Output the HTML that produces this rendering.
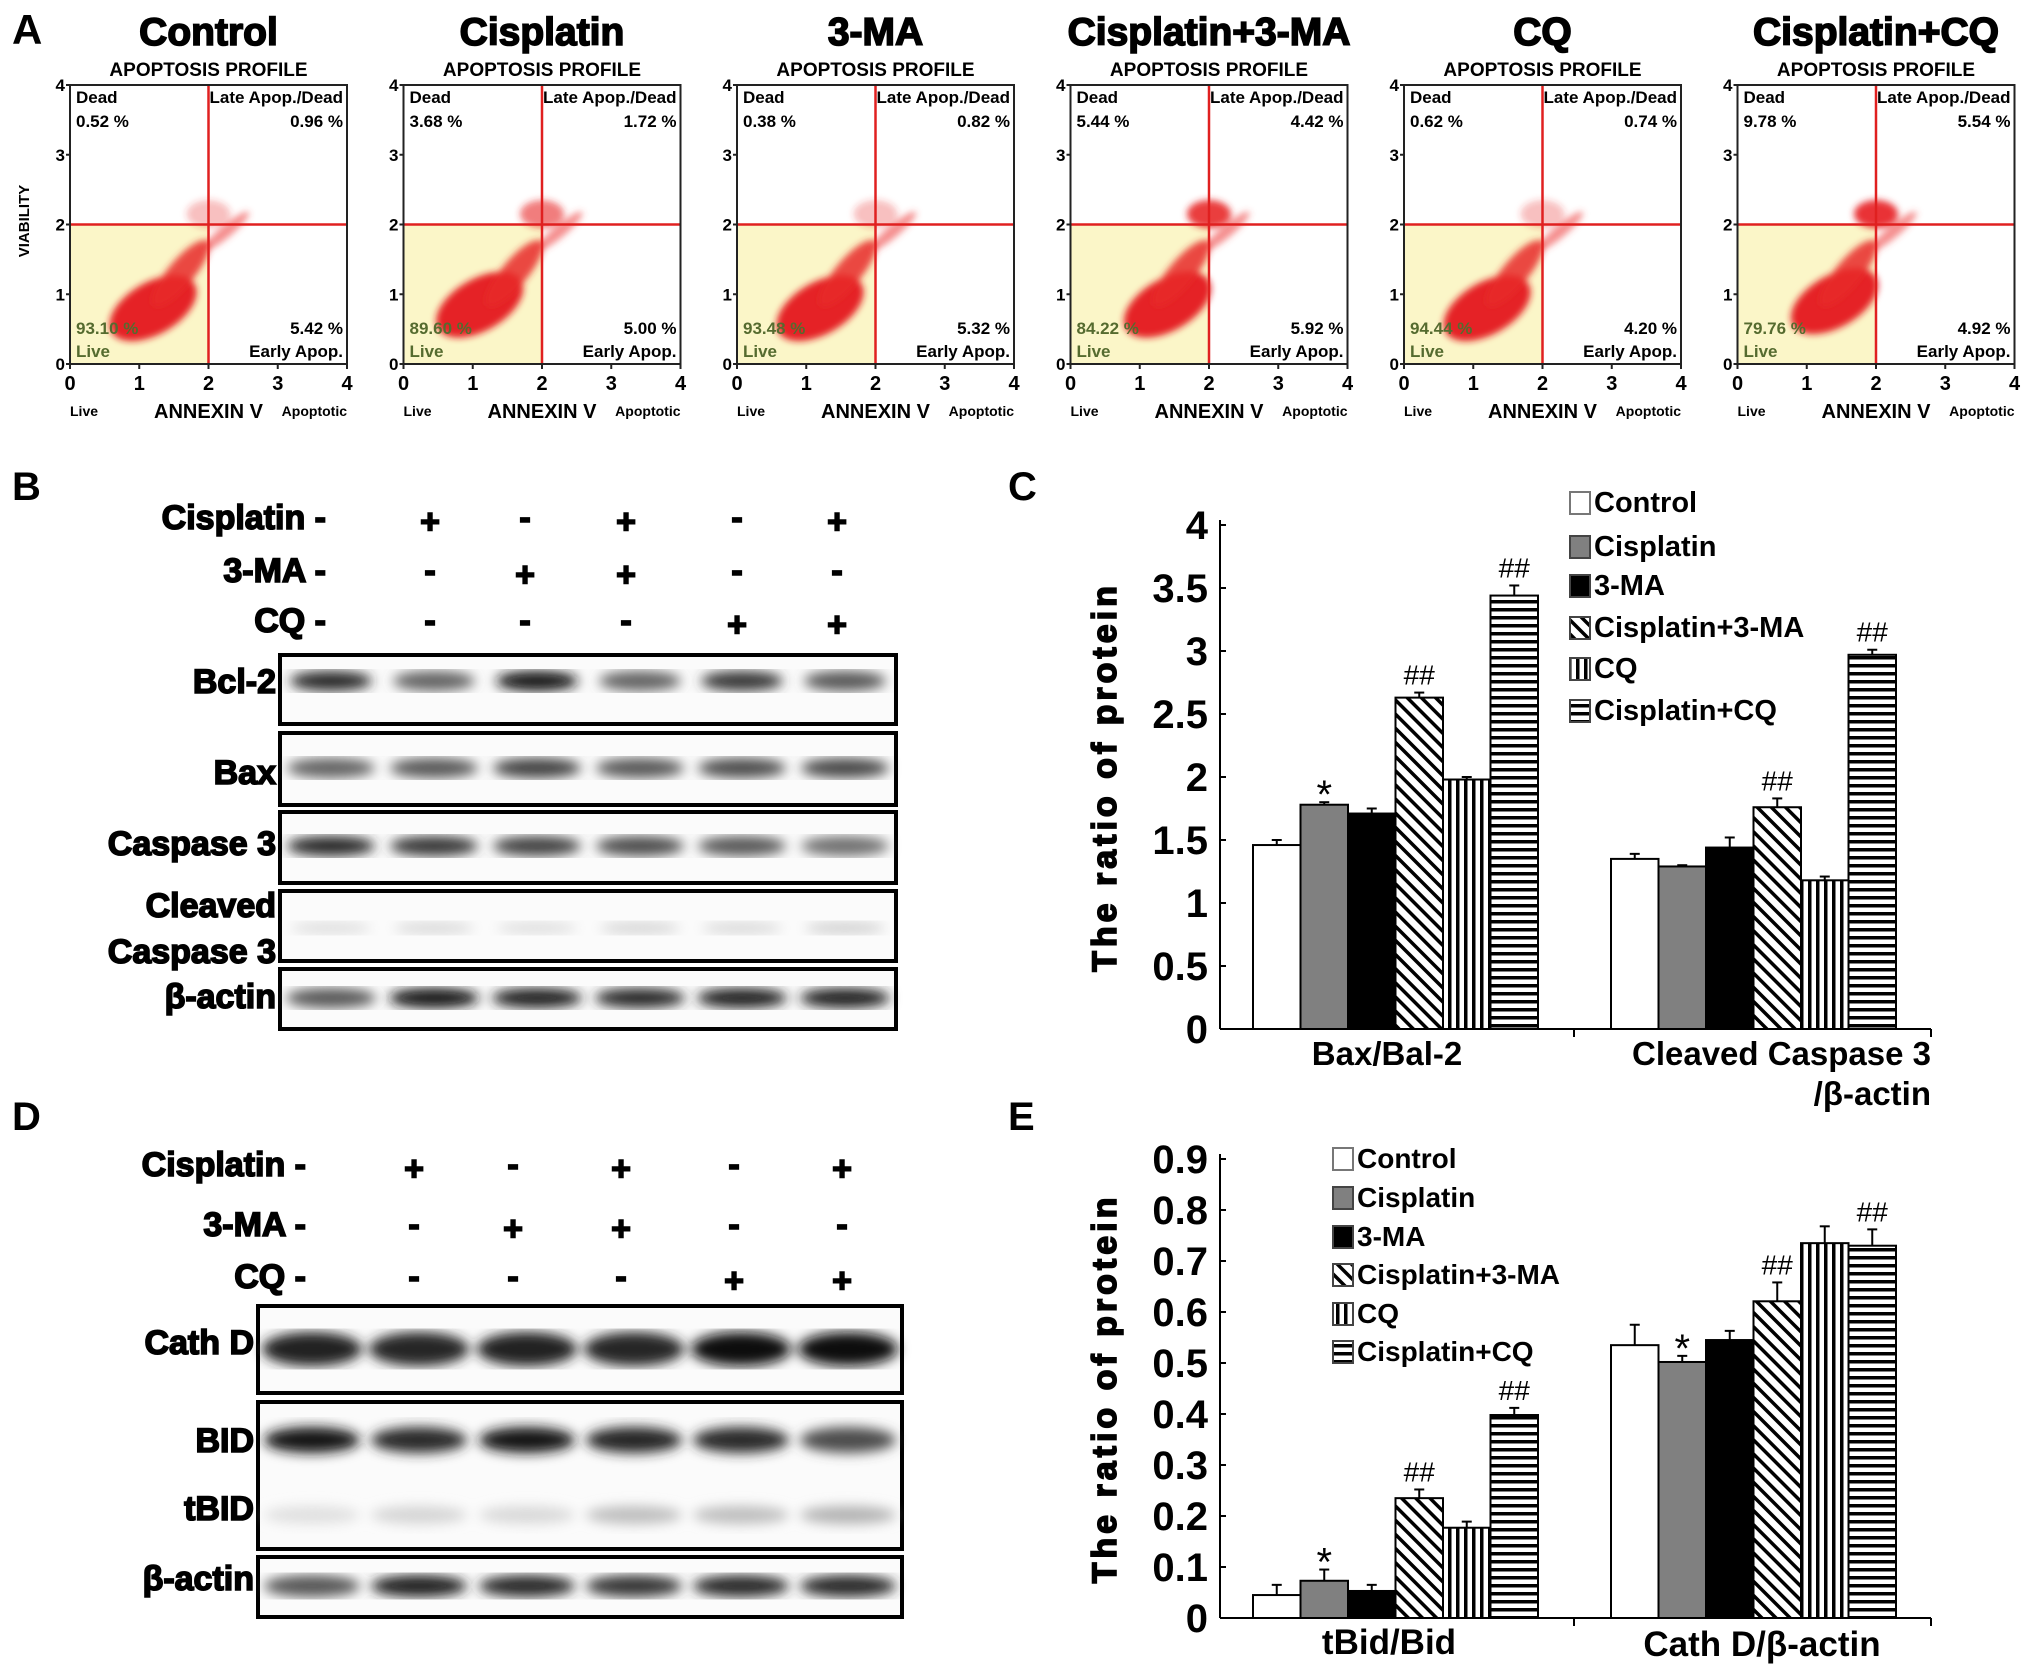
<!DOCTYPE html>
<html><head><meta charset="utf-8"><style>
html,body{margin:0;padding:0;background:#fff}
svg{display:block}
text{font-family:"Liberation Sans",Arial,sans-serif}
.n{font-family:"Liberation Sans Narrow","Liberation Sans",sans-serif;font-weight:bold}
.b{font-weight:bold}
.h{font-weight:bold;stroke:#000;stroke-width:1.6px}
</style></head><body>
<svg id="fig" xmlns="http://www.w3.org/2000/svg" width="2031" height="1670" viewBox="0 0 2031 1670">
<defs>
<pattern id="pDiag" patternUnits="userSpaceOnUse" width="10" height="10" patternTransform="rotate(-45)"><rect width="10" height="10" fill="#fff"/><rect width="3.5" height="10" fill="#000"/></pattern>
<pattern id="pVert" patternUnits="userSpaceOnUse" width="8" height="8"><rect width="8" height="8" fill="#fff"/><rect width="3.5" height="8" fill="#000"/></pattern>
<pattern id="pHorz" patternUnits="userSpaceOnUse" width="8" height="8"><rect width="8" height="8" fill="#fff"/><rect width="8" height="3.5" fill="#000"/></pattern>
<filter id="blur4"><feGaussianBlur stdDeviation="3.5"/></filter>
<filter id="blur8"><feGaussianBlur stdDeviation="6"/></filter>
</defs>
<g id="panelA"></g>
<g id="panelB"></g>
<g id="panelC"></g>
<g id="panelD"></g>
<g id="panelE"></g>
</svg>
<script>
// ---------- Panel A data ----------
const flowTitles = ["Control","Cisplatin","3-MA","Cisplatin+3-MA","CQ","Cisplatin+CQ"];
const deadPct = ["0.52","3.68","0.38","5.44","0.62","9.78"];
const latePct = ["0.96","1.72","0.82","4.42","0.74","5.54"];
const livePct = ["93.10","89.60","93.48","84.22","94.44","79.76"];
const earlyPct = ["5.42","5.00","5.32","5.92","4.20","4.92"];
const mainBlobX = [1.2,1.1,1.2,1.4,1.2,1.4];
const mainBlobY = [0.8,0.85,0.8,0.85,0.8,0.9];
const upperBlob = [0.3,0.6,0.3,0.9,0.3,0.95];
const flowTicks = ["0","1","2","3","4"];

// ---------- Panel C data ----------
const groupNames = ["Control","Cisplatin","3-MA","Cisplatin+3-MA","CQ","Cisplatin+CQ"];
const cCats = ["Bax/Bal-2","Cleaved Caspase 3"];
const cVals1 = [1.46,1.78,1.71,2.63,1.98,3.44];
const cErr1 = [0.04,0.02,0.04,0.04,0.02,0.08];
const cVals2 = [1.35,1.29,1.44,1.76,1.18,2.97];
const cErr2 = [0.04,0.01,0.08,0.07,0.03,0.04];
const cTicks = ["0","0.5","1","1.5","2","2.5","3","3.5","4"];
const cMarks1 = ["","*","","##","","##"];
const cMarks2 = ["","","","##","","##"];

// ---------- Panel E data ----------
const eCats = ["tBid/Bid","Cath D/β-actin"];
const eVals1 = [0.045,0.073,0.053,0.235,0.177,0.398];
const eErr1 = [0.02,0.022,0.012,0.017,0.012,0.014];
const eVals2 = [0.535,0.502,0.545,0.621,0.735,0.73];
const eErr2 = [0.04,0.012,0.018,0.037,0.033,0.032];
const eTicks = ["0","0.1","0.2","0.3","0.4","0.5","0.6","0.7","0.8","0.9"];
const eMarks1 = ["","*","","##","","##"];
const eMarks2 = ["","*","","##","","##"];

// ---------- Blot data ----------
const bcl2 = [0.85,0.6,0.95,0.6,0.8,0.65];
const bax = [0.6,0.65,0.75,0.65,0.7,0.72];
const casp3 = [0.85,0.8,0.75,0.7,0.65,0.55];
const cleaved = [0.06,0.08,0.06,0.1,0.08,0.12];
const actinB = [0.65,0.95,0.9,0.85,0.9,0.9];
const cathD = [0.9,0.88,0.9,0.88,1,1];
const bid = [0.95,0.85,0.95,0.88,0.85,0.7];
const tbid = [0.05,0.1,0.08,0.2,0.2,0.25];
const actinD = [0.65,0.9,0.85,0.8,0.85,0.85];
const signCis = ["-","+","-","+","-","+"];
const sign3ma = ["-","-","+","+","-","-"];
const signCQ = ["-","-","-","-","+","+"];

const NS="http://www.w3.org/2000/svg";
function mk(tag,attrs,parent,txt){const e=document.createElementNS(NS,tag);for(const k in attrs)e.setAttribute(k,attrs[k]);if(txt!==undefined)e.textContent=txt;parent.appendChild(e);return e;}

// ---------- Panel A ----------
const A=document.getElementById('panelA');
const lblA=mk('text',{x:12,y:44,'font-size':42,class:'b'},A,'A');


const vt=mk('text',{x:0,y:0,'font-size':15,transform:'translate(29,221) rotate(-90)','text-anchor':'middle',class:'n'},A,'VIABILITY');


flowTitles.forEach((t,i)=>{
  const g=mk('g',{},A);
  
  
  const x0=70+333.5*i, y0=85, w=277, h=279;
  const sx=v=>x0+v/4*w, sy=v=>y0+h-v/4*h;
  const tt=mk('text',{x:x0+w/2,y:45,'font-size':39,'text-anchor':'middle',class:'h'},g,t);
  
  
  mk('text',{x:x0+w/2,y:76,'font-size':19,'text-anchor':'middle',class:'n'},g,'APOPTOSIS PROFILE');
  mk('rect',{x:x0,y:sy(2),width:w/2,height:h/2,fill:'#fbf6c8'},g);
  const cl=mk('g',{filter:'url(#blur4)'},g);
  mk('ellipse',{cx:sx(mainBlobX[i]),cy:sy(mainBlobY[i]),rx:48,ry:26,fill:'#e4181a',opacity:0.95,transform:`rotate(-30 ${sx(mainBlobX[i])} ${sy(mainBlobY[i])})`},cl);
  mk('ellipse',{cx:sx(1.6),cy:sy(1.3),rx:42,ry:13,fill:'#e8282a',opacity:0.85,transform:`rotate(-50 ${sx(1.6)} ${sy(1.3)})`},cl);
  mk('ellipse',{cx:sx(2.0),cy:sy(2.15),rx:22,ry:14,fill:'#e8282a',opacity:upperBlob[i]},cl);
  mk('ellipse',{cx:sx(2.25),cy:sy(1.9),rx:30,ry:6,fill:'#ee4444',opacity:0.6,transform:`rotate(-40 ${sx(2.25)} ${sy(1.9)})`},cl);
  mk('line',{x1:sx(2),y1:y0,x2:sx(2),y2:y0+h,stroke:'#e02020','stroke-width':2.5},g);
  mk('line',{x1:x0,y1:sy(2),x2:x0+w,y2:sy(2),stroke:'#e02020','stroke-width':2.5},g);
  mk('rect',{x:x0,y:y0,width:w,height:h,fill:'none',stroke:'#222','stroke-width':2},g);
  flowTicks.forEach((tk,k)=>{
    mk('text',{x:sx(k),y:y0+h+26,'font-size':20,'text-anchor':'middle',class:'b'},g,tk);
    mk('text',{x:x0-5,y:sy(k)+6,'font-size':17,'text-anchor':'end',class:'b'},g,tk);
    mk('line',{x1:x0-4,y1:sy(k),x2:x0,y2:sy(k),stroke:'#222','stroke-width':2},g);
    mk('line',{x1:sx(k),y1:y0+h,x2:sx(k),y2:y0+h+5,stroke:'#222','stroke-width':2},g);
  });
  const fs=17;
  mk('text',{x:x0+6,y:y0+18,'font-size':fs,class:'n'},g,'Dead');
  mk('text',{x:x0+6,y:y0+42,'font-size':fs,class:'n'},g,deadPct[i]+' %');
  mk('text',{x:x0+w-4,y:y0+18,'font-size':fs,'text-anchor':'end',class:'n'},g,'Late Apop./Dead');
  mk('text',{x:x0+w-4,y:y0+42,'font-size':fs,'text-anchor':'end',class:'n'},g,latePct[i]+' %');
  mk('text',{x:x0+6,y:y0+h-30,'font-size':fs,fill:'#556b2f',class:'n'},g,livePct[i]+' %');
  mk('text',{x:x0+6,y:y0+h-7,'font-size':fs,fill:'#556b2f',class:'n'},g,'Live');
  mk('text',{x:x0+w-4,y:y0+h-30,'font-size':fs,'text-anchor':'end',class:'n'},g,earlyPct[i]+' %');
  mk('text',{x:x0+w-4,y:y0+h-7,'font-size':fs,'text-anchor':'end',class:'n'},g,'Early Apop.');
  mk('text',{x:x0,y:416,'font-size':14,class:'n'},g,'Live');
  const ax=mk('text',{x:x0+w/2,y:418,'font-size':20,'text-anchor':'middle',class:'n'},g,'ANNEXIN V');
  
  
  mk('text',{x:x0+w,y:416,'font-size':14,'text-anchor':'end',class:'n'},g,'Apoptotic');
});

// ---------- Blots ----------
function signRows(P,lanes,labelX,ys,fs){
  const rows=[["Cisplatin",signCis],["3-MA",sign3ma],["CQ",signCQ]];
  rows.forEach((r,k)=>{
    const t=mk('text',{x:labelX,y:ys[k],'font-size':fs,'text-anchor':'end',class:'h'},P,r[0]+' -');
    
    
    r[1].forEach((s,j)=>{ if(j>0) mk('text',{x:lanes[j],y:ys[k]+(s==='+'?4:0),'font-size':fs,'text-anchor':'middle',class:'h'},P,s); });
  });
}
function blot(P,name,x0,x1,yt,yb,lanes,bands,bandY,bw,bh,labels){
  const g=mk('g',{},P);
  
  
  mk('rect',{x:x0,y:yt,width:x1-x0,height:yb-yt,fill:'#fbfbfb',stroke:'#000','stroke-width':4},g);
  const bg=mk('g',{filter:'url(#blur8)'},g);
  bands.forEach((arr,bi)=>{
    arr.forEach((v,j)=>{
      const gray=Math.round(235-225*v);
      mk('ellipse',{cx:lanes[j],cy:bandY[bi],rx:bw/2,ry:bh[bi]/2,fill:`rgb(${gray},${gray},${gray})`},bg);
    });
  });
  labels.forEach(l=>mk('text',{x:l[1],y:l[2],'font-size':34,'text-anchor':'end',class:'h'},g,l[0]));
}
const B=document.getElementById('panelB');
mk('text',{x:12,y:500,'font-size':40,class:'b'},B,'B');
const lanesB=[331,434,537,640,742,845];
signRows(B,[322,430,525,626,737,837],326,[529,582,632],34);
blot(B,'bcl-2',280,896,655,724,lanesB,[bcl2],[681],82,[20],[["Bcl-2",276,693]]);
blot(B,'bax',280,896,733,805,lanesB,[bax],[768],88,[20],[["Bax",276,784]]);
blot(B,'caspase-3',280,896,812,883,lanesB,[casp3],[846],88,[20],[["Caspase 3",276,855]]);
blot(B,'cleaved-caspase-3',280,896,891,961,lanesB,[cleaved],[928],80,[12],[["Cleaved",276,917],["Caspase 3",276,963]]);
blot(B,'beta-actin-b',280,896,969,1029,lanesB,[actinB],[998],90,[20],[["β-actin",276,1008]]);

const D=document.getElementById('panelD');
mk('text',{x:12,y:1130,'font-size':40,class:'b'},D,'D');
const lanesD=[312,419,527,634,741,848];
signRows(D,[300,414,513,621,734,842],306,[1176,1236,1288],34);
blot(D,'cath-d',258,902,1306,1393,lanesD,[cathD],[1349],100,[34],[["Cath D",254,1354]]);
blot(D,'bid-tbid',258,902,1402,1549,lanesD,[bid,tbid],[1440,1515],96,[26,18],[["BID",254,1452],["tBID",254,1520]]);
blot(D,'beta-actin-d',258,902,1557,1617,lanesD,[actinD],[1586],96,[22],[["β-actin",254,1590]]);

// ---------- Bar charts ----------
const fills=['#fff','#808080','#000','url(#pDiag)','url(#pVert)','url(#pHorz)'];
function barChart(P,opt){
  const {axX,axEnd,y0,yTop,ymax,ticks,cats,vals,errs,marks,legX,legY,legFs,label,labelY}=opt;
  const ys=v=>y0-(v/ymax)*(y0-yTop);
  mk('text',{x:1008,y:labelY,'font-size':40,class:'b'},P,label);
  const yt=mk('text',{x:0,y:0,'font-size':34,'letter-spacing':4,'text-anchor':'middle',class:'h',transform:`translate(1116,${(y0+yTop)/2}) rotate(-90)`},P,'The ratio of protein');
  
  
  mk('line',{x1:axX,y1:yTop-5,x2:axX,y2:y0,stroke:'#000','stroke-width':2},P);
  mk('line',{x1:axX,y1:y0,x2:axEnd,y2:y0,stroke:'#000','stroke-width':2},P);
  mk('line',{x1:1574,y1:y0,x2:1574,y2:y0+8,stroke:'#000','stroke-width':2},P);
  mk('line',{x1:axEnd,y1:y0,x2:axEnd,y2:y0+8,stroke:'#000','stroke-width':2},P);
  ticks.forEach(t=>{
    const y=ys(parseFloat(t));
    mk('line',{x1:axX,y1:y,x2:axX+6,y2:y,stroke:'#000','stroke-width':2},P);
    const tl=mk('text',{x:axX-12,y:y+14,'font-size':40,'text-anchor':'end',class:'n'},P,t);
    
    
  });
  const starts=[1253,1611], bw=47.5;
  vals.forEach((arr,gi)=>{
    arr.forEach((v,j)=>{
      const x=starts[gi]+j*bw, top=ys(v), et=ys(v+errs[gi][j]);
      mk('line',{x1:x+bw/2,y1:et,x2:x+bw/2,y2:top,stroke:'#000','stroke-width':2},P);
      mk('line',{x1:x+bw/2-5,y1:et,x2:x+bw/2+5,y2:et,stroke:'#000','stroke-width':2},P);
      const r=mk('rect',{x:x,y:top,width:bw,height:y0-top,fill:fills[j],stroke:'#000','stroke-width':2},P);
      
      
      const m=marks[gi][j];
      if(m) mk('text',{x:x+bw/2,y:et-(m==='*'?-6:8),'font-size':m==='*'?40:28,'text-anchor':'middle','font-family':'Liberation Serif, serif'},P,m);
    });
  });
  groupNames.forEach((n,j)=>{
    const le=mk('g',{},P);
    
    
    mk('rect',{x:legX,y:legY[j]-20,width:20,height:22,fill:fills[j],stroke:j===0?'#777':'#444','stroke-width':2},le);
    mk('text',{x:legX+24,y:legY[j],'font-size':legFs,class:'n'},le,n);
  });
  return ys;
}
const C=document.getElementById('panelC');
barChart(C,{axX:1220,axEnd:1931,y0:1029,yTop:525,ymax:4,ticks:cTicks,cats:cCats,vals:[cVals1,cVals2],errs:[cErr1,cErr2],marks:[cMarks1,cMarks2],legX:1570,legY:[512,556,595,637,678,720],legFs:29,label:'C',labelY:500});
mk('text',{x:1387,y:1065,'font-size':33,'text-anchor':'middle',class:'n'},C,cCats[0]);
mk('text',{x:1931,y:1065,'font-size':33,'text-anchor':'end',class:'n'},C,cCats[1]);
mk('text',{x:1931,y:1105,'font-size':33,'text-anchor':'end',class:'n'},C,'/β-actin');

const E=document.getElementById('panelE');
barChart(E,{axX:1220,axEnd:1931,y0:1618,yTop:1159,ymax:0.9,ticks:eTicks,cats:eCats,vals:[eVals1,eVals2],errs:[eErr1,eErr2],marks:[eMarks1,eMarks2],legX:1333,legY:[1168,1207,1246,1284,1323,1361],legFs:28,label:'E',labelY:1130});
mk('text',{x:1389,y:1654,'font-size':35,'text-anchor':'middle',class:'n'},E,eCats[0]);
mk('text',{x:1762,y:1656,'font-size':35,'text-anchor':'middle',class:'n'},E,eCats[1]);
</script>
</body></html>
